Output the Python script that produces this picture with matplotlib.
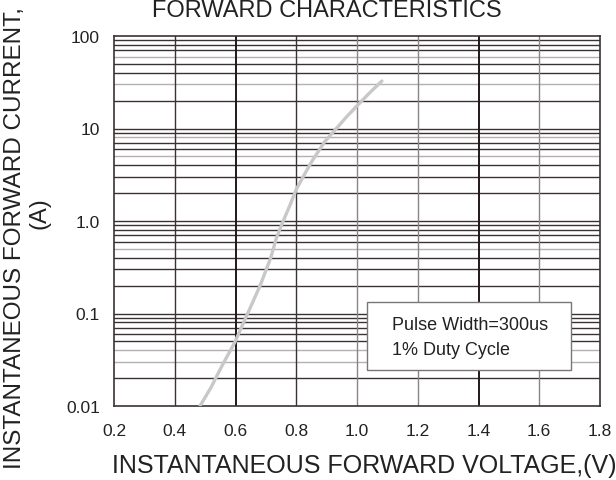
import matplotlib
matplotlib.use("Agg")
import matplotlib.pyplot as plt
from matplotlib.patches import Rectangle
from matplotlib.ticker import FixedLocator, LogLocator, NullFormatter

plt.rcParams["font.family"] = ["Liberation Sans", "DejaVu Sans"]

# forward curve
VOLTAGE = [0.483, 0.52, 0.555, 0.598, 0.64, 0.681, 0.716, 0.735, 0.757, 0.78, 0.80,
           0.825, 0.851, 0.895, 0.931, 0.965, 1.0, 1.04, 1.082]
CURRENT = [0.01, 0.016, 0.027, 0.049, 0.1, 0.2, 0.4, 0.66, 1.0, 1.5, 2.2,
           3.1, 4.4, 7.3, 9.9, 13.3, 17.6, 24.0, 32.6]

X_TICKS = [0.2, 0.4, 0.6, 0.8, 1.0, 1.2, 1.4, 1.6, 1.8]
X_TICK_LABELS = ["0.2", "0.4", "0.6", "0.8", "1.0", "1.2", "1.4", "1.6", "1.8"]
Y_TICKS = [0.01, 0.1, 1.0, 10, 100]
Y_TICK_LABELS = ["0.01", "0.1", "1.0", "10", "100"]

NOTE_LINES = ["Pulse Width=300us", "1% Duty Cycle"]

DARK = "#3a3232"
LIGHT = "#b4b0b0"
TEXT = "#222222"
GRAY_MINORS = [60, 30, 8, 5, 0.5, 0.04, 0.03]
GRAY_VERTICALS = [1.0, 1.2, 1.6]
BOLD_VERTICALS = [0.6, 1.4]

fig = plt.figure(figsize=(6.16, 4.81), dpi=100)
ax = fig.add_axes([114 / 616, 1 - 407 / 481, 486 / 616, 370 / 481])

ax.set_yscale("log")
ax.set_xlim(0.2, 1.8)
ax.set_ylim(0.01, 100)

# grid drawn by hand so single lines can be shaded like the scan
for dec in [0.01, 0.1, 1, 10]:
    for k in range(2, 10):
        v = round(dec * k, 6)
        col = LIGHT if any(abs(v - g) < 1e-9 for g in GRAY_MINORS) else DARK
        ax.axhline(v, color=col, lw=1.0, zorder=1)
for v in Y_TICKS[1:-1]:
    ax.axhline(v, color=DARK, lw=1.0, zorder=1)
for x in X_TICKS[1:-1]:
    if x in BOLD_VERTICALS:
        ax.axvline(x, color="#201818", lw=1.4, zorder=1)
    elif x in GRAY_VERTICALS:
        ax.axvline(x, color="#8a8484", lw=1.0, zorder=1)
    else:
        ax.axvline(x, color=DARK, lw=1.0, zorder=1)

ax.plot(VOLTAGE, CURRENT, color="#c8c8c8", lw=2.4, solid_capstyle="round",
        solid_joinstyle="round", zorder=3)

ax.xaxis.set_major_locator(FixedLocator(X_TICKS))
ax.set_xticklabels(X_TICK_LABELS)
ax.yaxis.set_major_locator(FixedLocator(Y_TICKS))
ax.set_yticklabels(Y_TICK_LABELS)
ax.yaxis.set_minor_locator(LogLocator(base=10, subs=range(2, 10)))
ax.yaxis.set_minor_formatter(NullFormatter())
ax.tick_params(which="both", length=0, labelsize=12.5, colors=TEXT)
ax.tick_params(axis="x", pad=12)
ax.tick_params(axis="y", pad=10)

for s in ax.spines.values():
    s.set_color(DARK)
    s.set_linewidth(1.2)

# note box
ax.add_patch(Rectangle((0.5206, 0.0973), 0.4197, 0.1838, transform=ax.transAxes,
                       fc="white", ec="#777777", lw=1.0, zorder=5))
ax.text(0.572, 1 - (326 - 37) / 370, NOTE_LINES[0], transform=ax.transAxes,
        fontsize=13, color=TEXT, va="center", ha="left", zorder=6)
ax.text(0.572, 1 - (351 - 37) / 370, NOTE_LINES[1], transform=ax.transAxes,
        fontsize=13, color=TEXT, va="center", ha="left", zorder=6)

fig.text(327 / 616, 1 - 17 / 481, "FORWARD CHARACTERISTICS", ha="center", va="baseline",
         fontsize=17, color=TEXT)
fig.text(364 / 616, 1 - 466 / 481, "INSTANTANEOUS FORWARD VOLTAGE,(V)",
         ha="center", va="center", fontsize=18, color=TEXT)
fig.text(15 / 616, 1 - 238 / 481, "INSTANTANEOUS FORWARD CURRENT,", rotation=90,
         ha="center", va="center", fontsize=17.5, color=TEXT)
fig.text(40 / 616, 1 - 213 / 481, "(A)", rotation=90, ha="center", va="center",
         fontsize=17, color=TEXT)

fig.savefig("out.png", dpi=100)
